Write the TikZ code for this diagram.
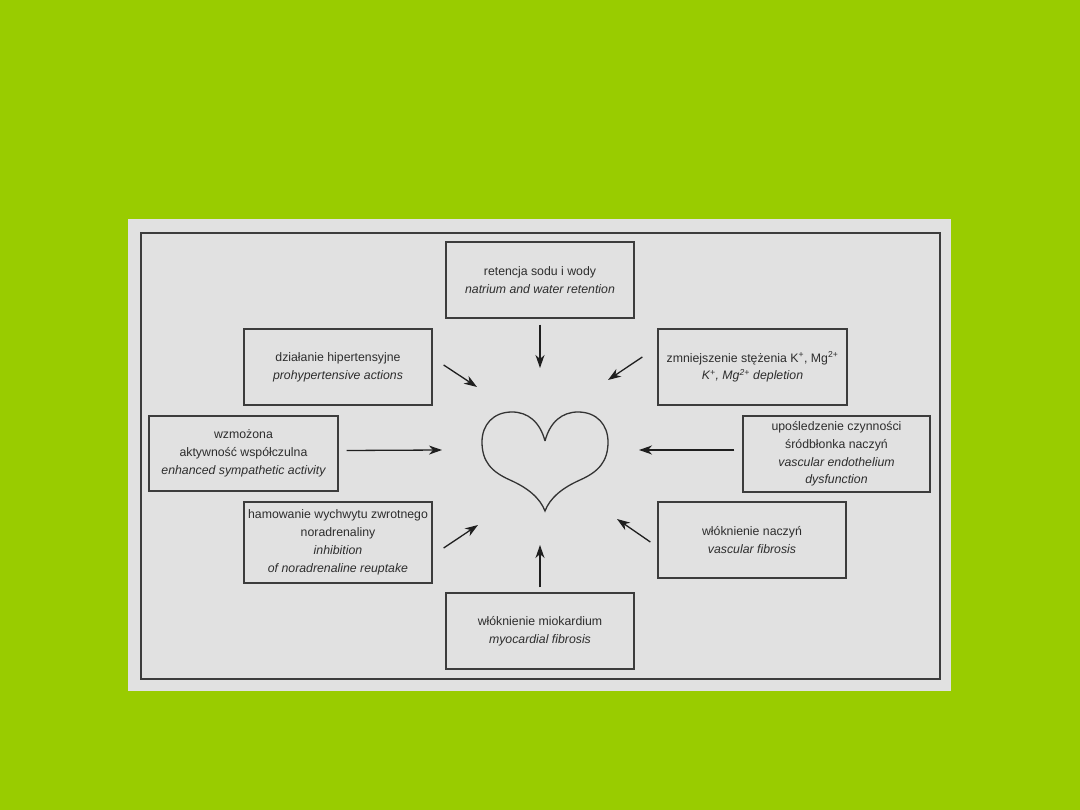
\documentclass[tikz,border=0pt]{standalone}
\usepackage{fontspec}
\setmainfont{Liberation Sans}
\usetikzlibrary{arrows.meta}
\definecolor{bggreen}{RGB}{153,204,0}
\definecolor{panel}{RGB}{225,225,225}
\definecolor{ink}{RGB}{60,60,60}
\definecolor{txt}{RGB}{45,45,45}
\begin{document}
\begin{tikzpicture}[x=1pt,y=-1pt,
  box/.style={draw=ink, line width=1.3pt, minimum width=188pt, minimum height=76pt,
    align=center, text=txt, font=\fontsize{12.3}{17.8}\selectfont, inner sep=0pt},
  arr/.style={draw=black!88, line width=1.3pt, -{Stealth[length=13pt,width=9pt,inset=4pt]}},
  heartline/.style={draw=black!80, line width=1.3pt}]
\fill[bggreen] (0,0) rectangle (1080,810);
\useasboundingbox (0,0) rectangle (1080,810);
\fill[panel] (128,219) rectangle (951,691);
\draw[ink, line width=1.3pt] (141,233) rectangle (940,679);

\node[box] (ret) at (540,280) {retencja sodu i wody\\\itshape natrium and water retention};
\node[box] (dz) at (338,367) {działanie hipertensyjne\\\itshape prohypertensive actions};
\node[box, minimum width=189pt] (zm) at (752.5,367) {zmniejszenie stężenia K\textsuperscript{+}, Mg\textsuperscript{2+}\\\itshape K\textsuperscript{+}, Mg\textsuperscript{2+} depletion};
\node[box, minimum width=189pt, minimum height=75pt] (wz) at (243.5,453.5) {wzmożona\\aktywność współczulna\\\itshape enhanced sympathetic activity};
\node[box, minimum width=187pt] (up) at (836.5,454) {upośledzenie czynności\\śródbłonka naczyń\\\itshape vascular endothelium\\\itshape dysfunction};
\node[box, minimum height=81pt] (ham) at (338,542.5) {hamowanie wychwytu zwrotnego\\noradrenaliny\\\itshape inhibition\\\itshape of noradrenaline reuptake};
\node[box] (wn) at (752,540) {włóknienie naczyń\\\itshape vascular fibrosis};
\node[box] (mio) at (540,631) {włóknienie miokardium\\\itshape myocardial fibrosis};

% heart
\draw[heartline] (545,441) .. controls (550,422) and (562,412) .. (578,412)
  .. controls (597,412) and (608,425) .. (608,442)
  .. controls (608,462) and (598,472) .. (580,480)
  .. controls (562,488) and (550,498) .. (545,511)
  .. controls (540,498) and (528,488) .. (510,480)
  .. controls (492,472) and (482,462) .. (482,442)
  .. controls (482,425) and (493,412) .. (512,412)
  .. controls (528,412) and (540,422) .. (545,441);

\coordinate (hT) at (540,368);
\coordinate (hUL) at (477,387);
\coordinate (hUR) at (608,380);
\coordinate (hL) at (442,450);
\coordinate (hR) at (639,450);
\coordinate (hLL) at (478,525);
\coordinate (hLR) at (617,519);
\coordinate (hB) at (540,545);

\draw[arr, shorten <=6pt] (ret.south) -- (hT);
\draw[arr] ([shift={(11pt,2pt)}]dz.east) -- (hUL);
\draw[arr] ([shift={(-15pt,10pt)}]zm.west) -- (hUR);
\draw[arr] ([shift={(8pt,3pt)}]wz.east) -- (hL);
\draw[arr] ([shift={(-8pt,4pt)}]up.west) -- (hR);
\draw[arr] ([shift={(11pt,-5.5pt)}]ham.east) -- (hLL);
\draw[arr] ([shift={(-7pt,-2pt)}]wn.west) -- (hLR);
\draw[arr, shorten <=5pt] (mio.north) -- (hB);
\end{tikzpicture}
\end{document}
